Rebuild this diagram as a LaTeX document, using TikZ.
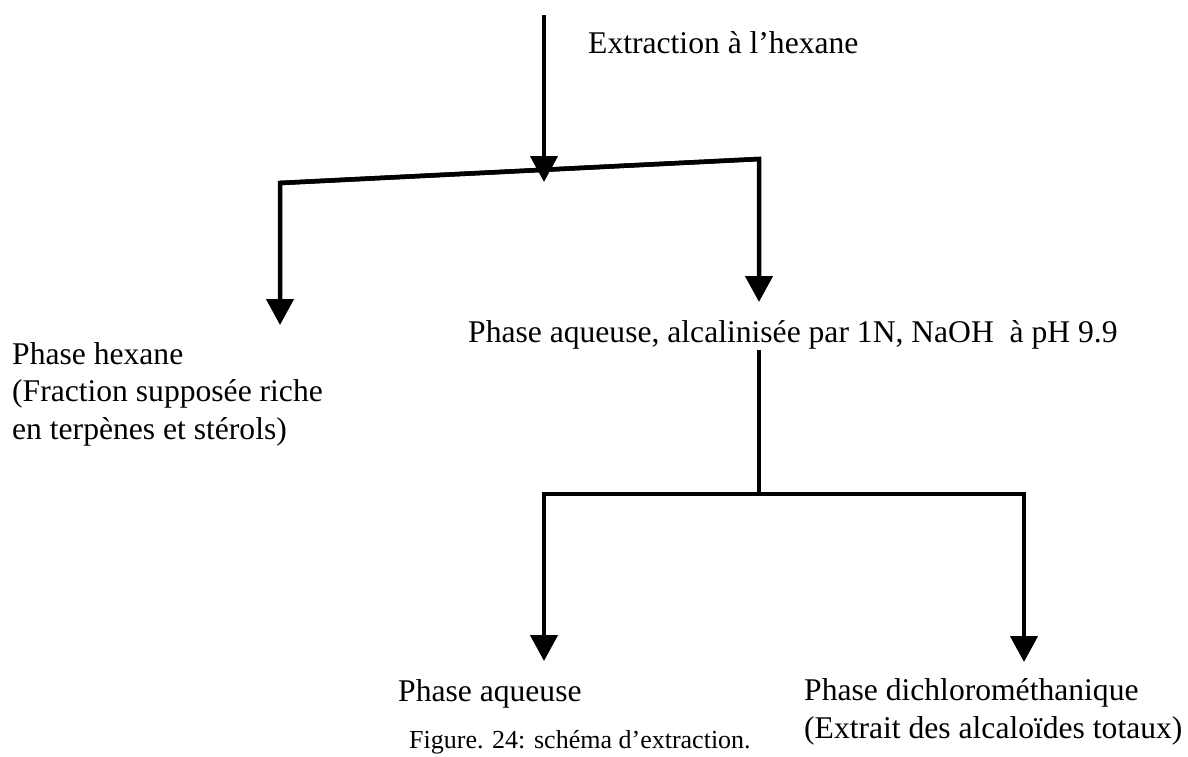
\documentclass[tikz,border=0pt]{standalone}
\usepackage{fontspec}
\setmainfont{Liberation Serif}
\usetikzlibrary{arrows.meta}
\begin{document}
\begin{tikzpicture}[x=1pt,y=-1pt,
  lbl/.style={anchor=base west,inner sep=0pt,font=\fontsize{31.6}{37.6}\selectfont,align=left},
  figcap/.style={anchor=base west,inner sep=0pt,font=\fontsize{26}{30}\selectfont},
  ln/.style={line width=4.5pt,line join=miter},
  arr/.style={ln,-{Triangle[width=27pt,length=26pt]}}]
\useasboundingbox (0,0) rectangle (1188,756);
% text (base = baseline of the last line)
\node[lbl] (ext) at (588,53) {Extraction à l’hexane};
\node[lbl] (hex) at (12,439.5) {Phase hexane\\(Fraction supposée riche\\en terpènes et stérols)};
\node[lbl] (aq1) at (468,342) {Phase aqueuse, alcalinisée par 1N, NaOH\ \ à pH 9.9};
\node[lbl] (aq2) at (398,701) {Phase aqueuse};
\node[lbl] (dcm) at (804,738) {Phase dichlorométhanique\\(Extrait des alcaloïdes totaux)};
\node[figcap] (fig) at (409,748) {Figure. 24: schéma d’extraction.};
% coordinates
\coordinate (top) at (544,15);
\coordinate (topend) at (544,182);
\coordinate (bl) at (280,183);
\coordinate (br) at (759,159);
\coordinate (blend) at (280,325);
\coordinate (brend) at (759,302);
\coordinate (m1) at (759,350);
\coordinate (m2) at (759,494);
\coordinate (hl) at (544,494);
\coordinate (hr) at (1024,494);
\coordinate (hlend) at (544,661);
\coordinate (hrend) at (1024,662);
% connectors
\draw[arr] (top) -- (topend);
\draw[arr] (br) -- (bl) -- (blend);
\draw[arr] (bl) -- (br) -- (brend);
\draw[ln] (m1) -- (m2);
\draw[arr] (m2) -- (hl) -- (hlend);
\draw[arr] (m2) -- (hr) -- (hrend);
\end{tikzpicture}
\end{document}
